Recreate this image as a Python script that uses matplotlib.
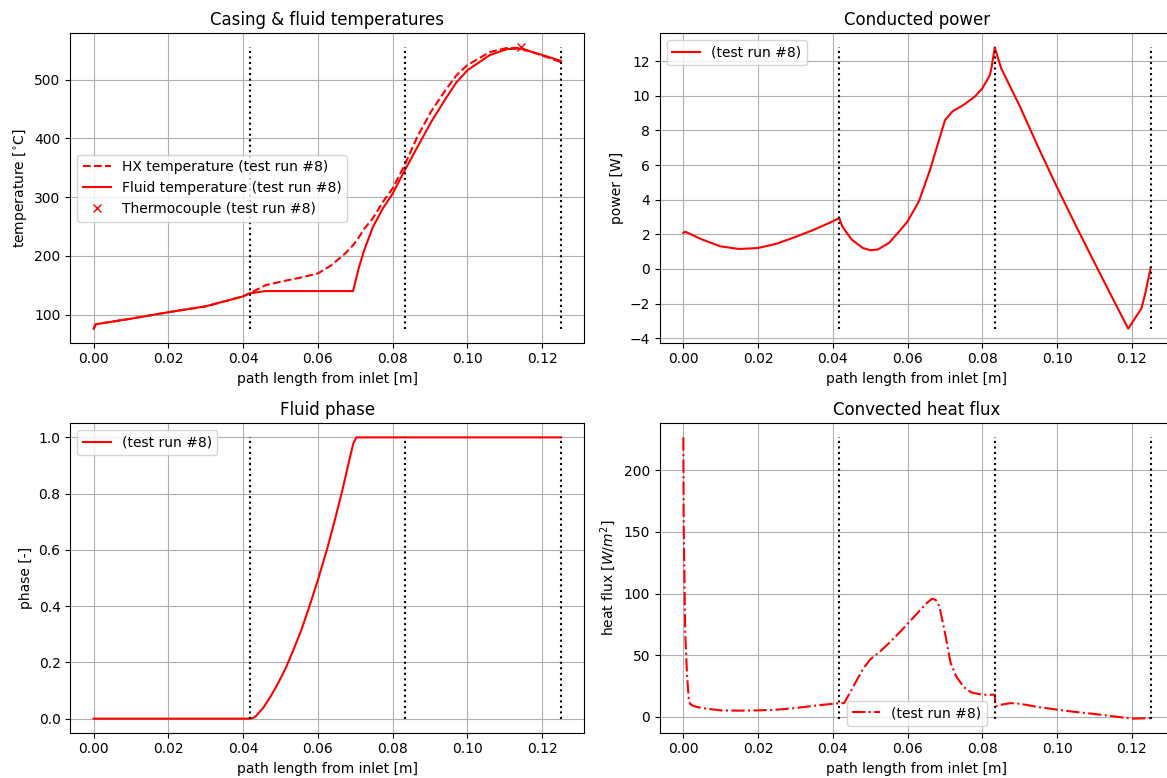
import numpy as np
import matplotlib
matplotlib.use("Agg")
import matplotlib.pyplot as plt

# Section boundaries along the flow path [m]
section_edges = [0.0417, 0.0833, 0.125]

# Casing (HX) and fluid temperatures [degC]
x_temp = [0.0, 0.0006, 0.005, 0.01, 0.02, 0.03, 0.04, 0.0417, 0.046, 0.0508, 0.0554,
          0.06, 0.0636, 0.0673, 0.0694, 0.071, 0.0724, 0.0747, 0.0774, 0.08, 0.083,
          0.0866, 0.0903, 0.094, 0.097, 0.10, 0.106, 0.1106, 0.1142, 0.12, 0.125]
hx_temp = [76, 83.5, 88, 93, 104, 114, 131, 136, 150, 157, 163,
           170, 184, 204, 218, 232, 246, 264, 292, 315, 352,
           403, 446, 481, 507, 525, 547, 554, 554, 541, 530]
fluid_temp = [76, 83.5, 88, 93, 104, 114, 131, 136, 140, 140, 140,
              140, 140, 140, 140, 181, 210, 249, 281, 306, 343,
              385, 428, 466, 495, 516, 542, 552, 553, 542, 532]
tc_x = [0.1144]
tc_temp = [555]

# Conducted power [W]
x_power = [0.0, 0.0005, 0.005, 0.01, 0.015, 0.02, 0.025, 0.03, 0.035, 0.04, 0.0417,
           0.0425, 0.045, 0.048, 0.05, 0.052, 0.055, 0.058, 0.06, 0.063, 0.066,
           0.068, 0.07, 0.072, 0.075, 0.078, 0.08, 0.082, 0.0825, 0.0833, 0.085,
           0.09, 0.095, 0.10, 0.105, 0.11, 0.115, 0.119, 0.1225, 0.1235, 0.125]
power = [2.08, 2.15, 1.7, 1.3, 1.15, 1.21, 1.46, 1.85, 2.27, 2.75, 2.94,
         2.46, 1.7, 1.21, 1.08, 1.12, 1.5, 2.23, 2.75, 3.9, 5.73,
         7.17, 8.6, 9.1, 9.48, 9.96, 10.44, 11.2, 11.7, 12.8, 11.6,
         9.4, 7.0, 4.7, 2.5, 0.35, -1.77, -3.45, -2.3, -1.48, 0.06]

# Fluid phase (vapour fraction) [-]
x_phase = [0.0, 0.0417, 0.0426, 0.0434, 0.0454, 0.0474, 0.0494, 0.0514, 0.0534,
           0.0555, 0.0575, 0.06, 0.0625, 0.0645, 0.0665, 0.0685, 0.0695, 0.0703, 0.125]
phase = [0.0, 0.0, 0.002, 0.009, 0.039, 0.08, 0.127, 0.18, 0.243,
         0.313, 0.39, 0.493, 0.605, 0.705, 0.81, 0.925, 0.98, 1.0, 1.0]

# Convected heat flux [W/m^2]
x_flux = [0.0, 0.0001, 0.0005, 0.001, 0.0015, 0.002, 0.003, 0.005, 0.01, 0.015,
          0.02, 0.025, 0.03, 0.035, 0.04, 0.0417, 0.043, 0.045, 0.048, 0.05,
          0.053, 0.055, 0.058, 0.06, 0.063, 0.065, 0.0665, 0.0675, 0.0685, 0.07,
          0.0715, 0.073, 0.075, 0.077, 0.08, 0.0833, 0.0835, 0.085, 0.0875, 0.09,
          0.095, 0.10, 0.105, 0.11, 0.115, 0.12, 0.125]
flux = [226.8, 154, 68, 33, 12.4, 9.7, 8.4, 7.0, 5.1, 4.9,
        5.1, 5.7, 7.0, 8.9, 10.5, 11.0, 11.0, 21.9, 38.5, 46.5,
        54, 59.7, 69, 75.4, 85.4, 92, 95.7, 94.9, 89.5, 67.8,
        43.5, 32.7, 24, 19.7, 17.8, 17.8, 8.4, 9.7, 11.0, 10.5,
        7.8, 5.7, 3.8, 2.2, 0.3, -1.6, -1.2]

label = "(test run #8)"
xlabel = "path length from inlet [m]"

fig, axes = plt.subplots(2, 2, figsize=(11.67, 7.78), dpi=100)
fig.subplots_adjust(left=0.0602, right=1.006, top=0.9572, bottom=0.0582,
                    wspace=0.1473, hspace=0.2605)
ax_t, ax_p = axes[0]
ax_ph, ax_q = axes[1]


def section_lines(ax, *series):
    lo = min(min(s) for s in series)
    hi = max(max(s) for s in series)
    ax.vlines(section_edges, lo, hi, colors="k", linestyles="dotted")


ax_t.plot(x_temp, hx_temp, "r--", label="HX temperature " + label)
ax_t.plot(x_temp, fluid_temp, "r-", label="Fluid temperature " + label)
ax_t.plot(tc_x, tc_temp, "rx", label="Thermocouple " + label)
section_lines(ax_t, hx_temp, fluid_temp, tc_temp)
ax_t.set_title("Casing & fluid temperatures")
ax_t.set_ylabel(r"temperature [$^{\circ}$C]")
ax_t.legend(loc="center left")

ax_p.plot(x_power, power, "r-", label=label)
section_lines(ax_p, power)
ax_p.set_title("Conducted power")
ax_p.set_ylabel("power [W]")
ax_p.legend(loc="upper left")

ax_ph.plot(x_phase, phase, "r-", label=label)
section_lines(ax_ph, phase)
ax_ph.set_title("Fluid phase")
ax_ph.set_ylabel("phase [-]")
ax_ph.legend(loc="upper left")

ax_q.plot(x_flux, flux, "r-.", label=label)
section_lines(ax_q, flux)
ax_q.set_title("Convected heat flux")
ax_q.set_ylabel(r"heat flux [$W/m^2$]")
ax_q.legend(loc="lower center")

for ax in axes.flat:
    ax.set_xlabel(xlabel)
    ax.grid(True)

fig.savefig("out.png", dpi=100)
